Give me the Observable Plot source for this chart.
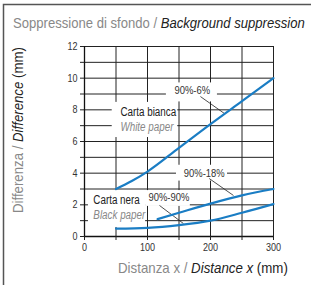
<!DOCTYPE html>
<html><head><meta charset="utf-8">
<script src="https://cdn.jsdelivr.net/npm/d3@7"></script>
<script src="https://cdn.jsdelivr.net/npm/@observablehq/plot@0.6"></script>
<style>body{margin:0;background:#fff}#c{position:relative;width:311px;height:285px;overflow:hidden}</style>
</head><body><div id="c"></div>
<script>
const FONT = '"Liberation Sans",Arial,Helvetica,sans-serif';
// axes
const xTicks = [0, 50, 100, 150, 200, 250, 300];
const xLabels = [0, 100, 200, 300];
const yTicks = [0, 1, 2, 3, 4, 5, 6, 7, 8, 9, 10, 11, 12];
const yLabels = [0, 2, 4, 6, 8, 10, 12];
// series: 90%-6% (white paper)
const white6X = [50, 75, 100, 150, 200, 250, 300];
const white6Y = [3.0, 3.5, 4.1, 5.6, 7.1, 8.55, 10.0];
// 90%-18% (black paper)
const black18X = [116, 150, 200, 250, 300];
const black18Y = [1.1, 1.5, 2.08, 2.6, 3.0];
// 90%-90% (black paper)
const black90X = [50, 100, 150, 200, 250, 300];
const black90Y = [0.5, 0.55, 0.72, 1.0, 1.5, 2.05];

const toRows = (xs, ys) => xs.map((x, i) => ({x, y: ys[i]}));
const BLUE = "#1a7dc4";

// annotations (data units)
const boxes = [
  {x1: 44, x2: 148, y1: 6.25, y2: 8.47},
  {x1: 130, x2: 211, y1: 8.5, y2: 9.7},
  {x1: 146, x2: 227, y1: 3.5, y2: 4.5},
  {x1: 6.3, x2: 97, y1: 0.57, y2: 2.9},
  {x1: 97, x2: 168, y1: 1.9, y2: 2.9}
];
const leaders = [
  {x1: 184, y1: 8.84, x2: 222, y2: 7.77},
  {x1: 198, y1: 3.66, x2: 236.5, y2: 2.59},
  {x1: 119, y1: 1.96, x2: 157, y2: 0.82}
];
const labelsMain = [
  {t: "Carta bianca", x: 57, y: 7.83},
  {t: "Carta nera", x: 14, y: 2.27}
];
const labelsEn = [
  {t: "White paper", x: 57, y: 6.89},
  {t: "Black paper", x: 14, y: 1.33}
];
const labelsPct = [
  {t: "90%-6%", x: 171, y: 9.22},
  {t: "90%-18%", x: 190, y: 3.98},
  {t: "90%-90%", x: 134, y: 2.46}
];

const plot = Plot.plot({
  width: 311, height: 285,
  marginLeft: 84, marginRight: 38, marginTop: 46, marginBottom: 49,
  x: {domain: [0, 300]},
  y: {domain: [0, 12]},
  style: {fontFamily: FONT, fontSize: "11px", color: "#333", background: "transparent"},
  marks: [
    Plot.gridX(xTicks, {stroke: "#222", strokeOpacity: 1, strokeWidth: 1}),
    Plot.gridY(yTicks, {stroke: "#222", strokeOpacity: 1, strokeWidth: 1}),
    Plot.rect(boxes, {x1: "x1", x2: "x2", y1: "y1", y2: "y2", fill: "white"}),
    Plot.link(leaders, {x1: "x1", y1: "y1", x2: "x2", y2: "y2", stroke: "#222", strokeWidth: 0.8}),
    Plot.ruleX([0], {stroke: "#111", strokeWidth: 1.3}),
    Plot.ruleY([0], {stroke: "#111", strokeWidth: 1.3}),
    Plot.axisX({ticks: xTicks, tickFormat: d => xLabels.includes(d) ? String(d) : "", tickSize: 4, tickPadding: 3, label: null, stroke: "#222", fill: "#333"}),
    Plot.axisY({ticks: yTicks, tickFormat: d => yLabels.includes(d) ? String(d) : "", tickSize: 4, tickPadding: 3, label: null, stroke: "#222", fill: "#333"}),
    Plot.line(toRows(white6X, white6Y), {x: "x", y: "y", stroke: BLUE, strokeWidth: 2.2, curve: "monotone-x"}),
    Plot.line(toRows(black18X, black18Y), {x: "x", y: "y", stroke: BLUE, strokeWidth: 2.2, curve: "monotone-x"}),
    Plot.line(toRows(black90X, black90Y), {x: "x", y: "y", stroke: BLUE, strokeWidth: 2.2, curve: "monotone-x"}),
    Plot.text(labelsMain, {x: "x", y: "y", text: "t", textAnchor: "start", fill: "#222", fontSize: 12}),
    Plot.text(labelsEn, {x: "x", y: "y", text: "t", textAnchor: "start", fill: "#888", fontStyle: "italic", fontSize: 12}),
    Plot.text(labelsPct, {x: "x", y: "y", text: "t", textAnchor: "middle", fill: "#333", fontSize: 11.5})
  ]
});
document.getElementById("c").appendChild(plot);

// condense all plot texts (narrow typeface look)
plot.querySelectorAll("text").forEach(t => {
  const L = t.getComputedTextLength();
  if (L > 0) {
    t.setAttribute("textLength", (L * 0.82).toFixed(1));
    t.setAttribute("lengthAdjust", "spacingAndGlyphs");
  }
});

const svg = d3.select(plot);
svg.append("path").attr("d", "M3.5,285V4.5H311").attr("fill", "none").attr("stroke", "#555").attr("stroke-width", 1.5);

// text squeezed horizontally (in its own direction) to a target length
function styled(parts, x, y, rot, target) {
  const g = svg.append("g");
  const t = g.append("text").attr("text-anchor", "start").attr("font-family", FONT).attr("font-size", 14);
  parts.forEach(p => {
    t.append("tspan").text(p.t).attr("fill", p.c).attr("font-style", p.i ? "italic" : "normal");
  });
  const L = t.node().getComputedTextLength();
  const k = target / L;
  g.attr("transform", `translate(${x},${y}) rotate(${rot}) scale(${k.toFixed(4)},1)`);
  return g;
}
styled([{t: "Soppressione di sfondo / ", c: "#888"}, {t: "Background suppression", c: "#222", i: true}], 13, 28, 0, 292);
styled([{t: "Distanza x / ", c: "#888"}, {t: "Distance x", c: "#222", i: true}, {t: " (mm)", c: "#222"}], 118, 273, 0, 170);
styled([{t: "Differenza / ", c: "#888"}, {t: "Difference", c: "#222", i: true}, {t: " (mm)", c: "#222"}], 23, 213, -90, 166);
</script>
</body></html>
